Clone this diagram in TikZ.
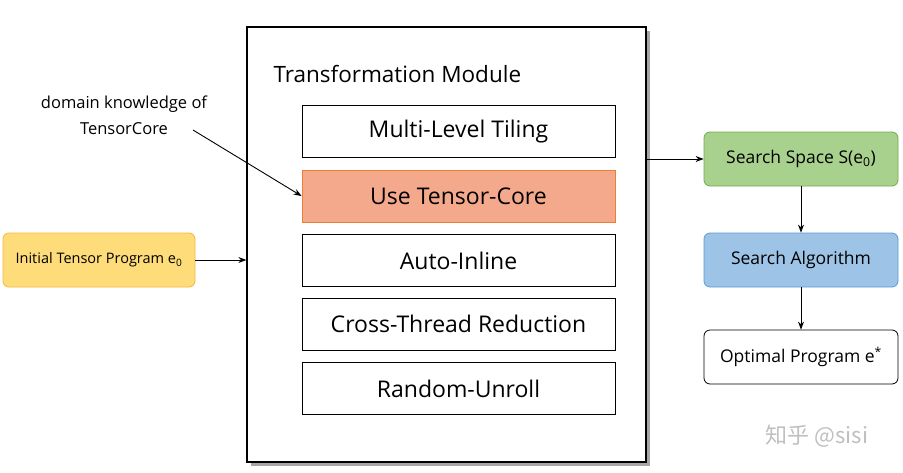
\documentclass[tikz,border=0pt]{standalone}
\usepackage{fontspec}
\setmainfont{Open Sans}
\newfontfamily\cjk{Noto Sans CJK SC}
\usetikzlibrary{arrows.meta}
\definecolor{salm}{HTML}{F5A98C}
\definecolor{salmd}{HTML}{ED7D31}
\definecolor{yel}{HTML}{FFDC7A}
\definecolor{yeld}{HTML}{F2B83A}
\definecolor{grn}{HTML}{A9D18E}
\definecolor{grnd}{HTML}{70AD47}
\definecolor{blu}{HTML}{9DC3E6}
\definecolor{blud}{HTML}{5B9BD5}
\begin{document}
\begin{tikzpicture}[x=1pt,y=-1pt,
 tb/.style={draw=black,line width=0.9pt,fill=white,minimum width=313pt,minimum height=52pt,font=\fontsize{23}{26}\selectfont,inner sep=0pt},
 rb/.style={draw,rounded corners=6pt,line width=0.8pt,minimum width=194pt,minimum height=54pt,font=\fontsize{17.5}{20}\selectfont,inner sep=0pt},
 arr/.style={-{Stealth[length=8pt,width=6pt]},line width=0.9pt}]
\useasboundingbox (0,0) rectangle (903,472);
\fill[black!35] (251,31) rectangle (650,466);
\node[draw,line width=1.3pt,fill=white,minimum width=399pt,minimum height=435pt,inner sep=0pt] (mod) at (446.5,244.5) {};
\node[anchor=west,font=\fontsize{22.5}{26}\selectfont] (title) at (270,74) {Transformation Module};
\node[tb] (t1) at (458.5,131.5) {Multi-Level Tiling};
\node[tb,fill=salm,draw=salmd] (t2) at (458.5,196) {Use Tensor-Core};
\node[tb] (t3) at (458.5,260.5) {Auto-Inline};
\node[tb] (t4) at (458.5,324) {Cross-Thread Reduction};
\node[tb] (t5) at (458.5,388.5) {Random-Unroll};
\node[rb,fill=yel,draw=yeld,minimum width=192pt,font=\fontsize{14.5}{16}\selectfont] (init) at (99,260) {Initial Tensor Program e\textsubscript{0}};
\node[align=center,font=\fontsize{16.5}{26}\selectfont] (dk) at (124,115) {domain knowledge of\\TensorCore};
\coordinate (dkend) at (193,130);
\node[rb,fill=grn,draw=grnd] (ss) at (801,159) {Search Space S(e\textsubscript{0})};
\node[rb,fill=blu,draw=blud] (sa) at (801,260) {Search Algorithm};
\node[rb,fill=white,draw=black] (op) at (801,357) {Optimal Program e\textsuperscript{*}};
\draw[arr] (init.east) -- (mod.west |- init.east);
\draw[arr] (dkend) -- (t2.west);
\draw[arr] (mod.east |- ss.west) -- (ss.west);
\draw[arr] (ss) -- (sa);
\draw[arr] (sa) -- (op);
\node[font=\cjk\fontsize{22}{24}\selectfont,text=black!25] (wm) at (817,436) {知乎 @sisi};
\end{tikzpicture}
\end{document}
